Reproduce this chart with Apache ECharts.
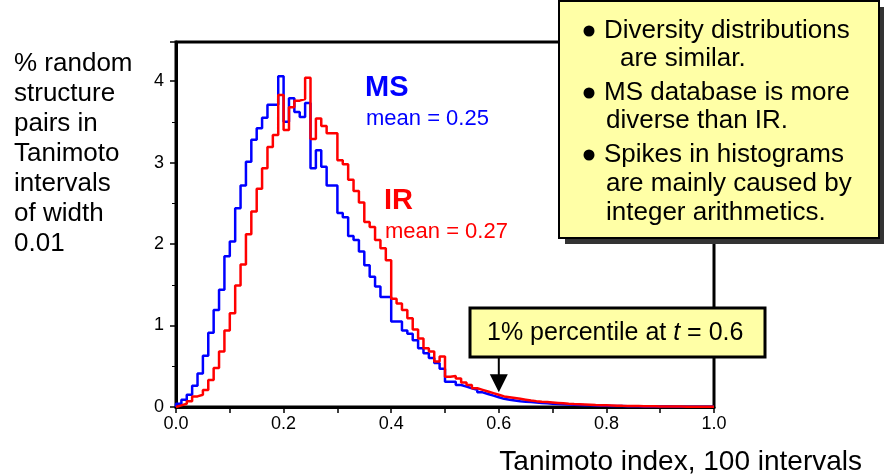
<!DOCTYPE html>
<html>
<head>
<meta charset="utf-8">
<script src="https://cdn.jsdelivr.net/npm/echarts@6/dist/echarts.min.js"></script>
<style>
  html, body { margin: 0; padding: 0; background: #fff; }
  #chart { width: 884px; height: 476px; }
</style>
</head>
<body>
<div id="chart"></div>
<script>
// % of pairs per Tanimoto bin of width 0.01 (bins 0..99)
const msValues = [
  0.04, 0.09, 0.15, 0.26, 0.41, 0.63, 0.91, 1.19, 1.44, 1.85,
  2.03, 2.44, 2.72, 3.01, 3.28, 3.42, 3.55, 3.71, 3.71, 4.06,
  3.50, 3.79, 3.62, 3.56, 3.73, 2.93, 3.15, 2.95, 2.72, 2.72,
  2.38, 2.33, 2.10, 2.05, 1.91, 1.74, 1.60, 1.48, 1.35, 1.35,
  1.05, 1.05, 0.94, 0.90, 0.82, 0.72, 0.66, 0.60, 0.54, 0.47,
  0.31, 0.31, 0.27, 0.25, 0.23, 0.21, 0.18, 0.16, 0.14, 0.12,
  0.10, 0.09, 0.08, 0.07, 0.065, 0.06, 0.055, 0.05, 0.045, 0.04,
  0.036, 0.033, 0.03, 0.027, 0.025, 0.022, 0.02, 0.018, 0.016, 0.015,
  0.013, 0.012, 0.011, 0.01, 0.009, 0.008, 0.007, 0.007, 0.006, 0.006,
  0.005, 0.005, 0.004, 0.004, 0.004, 0.003, 0.003, 0.003, 0.002, 0.002
]
const irValues = [
  0.02, 0.04, 0.07, 0.13, 0.15, 0.21, 0.33, 0.48, 0.68, 0.94,
  1.15, 1.49, 1.75, 2.12, 2.40, 2.68, 2.93, 3.19, 3.34, 3.83,
  3.40, 3.68, 3.76, 3.78, 4.04, 3.29, 3.54, 3.45, 3.36, 3.36,
  3.03, 2.98, 2.79, 2.65, 2.51, 2.27, 2.21, 2.05, 1.95, 1.80,
  1.33, 1.27, 1.19, 1.09, 0.95, 0.84, 0.72, 0.68, 0.56, 0.62,
  0.37, 0.38, 0.35, 0.30, 0.27, 0.23, 0.21, 0.19, 0.17, 0.15,
  0.13, 0.12, 0.11, 0.10, 0.09, 0.08, 0.072, 0.065, 0.06, 0.055,
  0.05, 0.045, 0.04, 0.036, 0.033, 0.03, 0.027, 0.024, 0.022, 0.02,
  0.018, 0.016, 0.014, 0.013, 0.012, 0.011, 0.01, 0.009, 0.008, 0.007,
  0.006, 0.006, 0.005, 0.005, 0.004, 0.004, 0.003, 0.003, 0.003, 0.002
]
const binWidth = 0.01
const xTicks = [0, 0.2, 0.4, 0.6, 0.8, 1.0]
const yTicks = [0, 1, 2, 3, 4]
const percentileT = 0.6

const FONT = '"Liberation Sans", Arial, sans-serif'

// step outline: (left edge, value) pairs, closed at the right edge
function toSteps (values) {
  const pts = [[0, 0]]
  values.forEach((v, i) => pts.push([+(i * binWidth).toFixed(2), v]))
  pts.push([1, values[values.length - 1]])
  return pts
}

function txt (id, x, y, text, font, color, align) {
  return {
    type: 'text',
    id: id,
    x: x,
    y: y,
    style: {
      text: text,
      font: font,
      fill: color || '#000',
      textAlign: align || 'left',
      textVerticalAlign: 'middle'
    }
  }
}

// [bullet?, text, centre y, left x]
const boxLines = [
  [true, 'Diversity distributions', 31, 604],
  [false, 'are similar.', 59, 620],
  [true, 'MS database is more', 93, 604],
  [false, 'diverse than IR.', 121, 606],
  [true, 'Spikes in histograms', 155, 604],
  [false, 'are mainly caused by', 184, 606],
  [false, 'integer arithmetics.', 213, 606]
]

const yTitle = ['% random', 'structure', 'pairs in', 'Tanimoto', 'intervals', 'of width', '0.01']

const myChart = echarts.init(document.getElementById('chart'))

const graphics = []
yTitle.forEach((s, i) => {
  graphics.push(txt('yt' + i, 14, 64 + i * 30, s, '26px ' + FONT))
})
graphics.push(txt('xt', 862, 462, 'Tanimoto index, 100 intervals', '28px ' + FONT, '#000', 'right'))
graphics.push(txt('ms', 365, 88, 'MS', 'bold 29px ' + FONT, '#0000ff'))
graphics.push(txt('msm', 366, 119, 'mean = 0.25', '22px ' + FONT, '#0000ff'))
graphics.push(txt('ir', 384, 201, 'IR', 'bold 29px ' + FONT, '#ff0000'))
graphics.push(txt('irm', 385, 232, 'mean = 0.27', '22px ' + FONT, '#ff0000'))
// summary box with shadow
graphics.push({
  type: 'rect', id: 'boxShadow',
  shape: { x: 565, y: 7, width: 319, height: 237 },
  style: { fill: '#333' },
  z: 10
})
graphics.push({
  type: 'rect', id: 'box',
  shape: { x: 559, y: 1, width: 320, height: 237 },
  style: { fill: '#ffffa6', stroke: '#000', lineWidth: 2 },
  z: 11
})
boxLines.forEach((l, i) => {
  if (l[0]) {
    graphics.push({
      type: 'circle', id: 'bb' + i,
      shape: { cx: 589, cy: l[2], r: 5.5 },
      style: { fill: '#000' },
      z: 12
    })
  }
  const t = txt('bl' + i, l[3], l[2], l[1], '26px ' + FONT)
  t.z = 12
  graphics.push(t)
})
// percentile callout
graphics.push({
  type: 'rect', id: 'callout',
  shape: { x: 470, y: 308, width: 295, height: 49 },
  style: { fill: '#ffffa6', stroke: '#000', lineWidth: 3 },
  z: 10
})
graphics.push({
  type: 'text', id: 'calloutText',
  x: 487,
  y: 333,
  z: 11,
  style: {
    rich: {
      n: { font: '25px ' + FONT, fill: '#000' },
      i: { font: 'italic 25px ' + FONT, fill: '#000' }
    },
    text: '{n|1% percentile at }{i|t}{n| = 0.6}',
    textVerticalAlign: 'middle'
  }
})

myChart.setOption({
  animation: false,
  grid: {
    left: 176,
    right: 170,
    top: 42,
    bottom: 69,
    show: true,
    borderColor: '#000',
    borderWidth: 3
  },
  xAxis: {
    type: 'value',
    min: 0,
    max: 1,
    interval: 0.1,
    splitLine: { show: false },
    axisLine: { lineStyle: { color: '#000', width: 3 } },
    axisTick: { length: 6, lineStyle: { color: '#000', width: 1.5 } },
    axisLabel: {
      color: '#000',
      fontSize: 18,
      fontFamily: FONT,
      margin: 8,
      formatter: v => xTicks.some(t => Math.abs(t - v) < 1e-6) ? v.toFixed(1) : ''
    }
  },
  yAxis: {
    type: 'value',
    min: 0,
    max: 4.48,
    interval: 1,
    splitLine: { show: false },
    axisLine: { lineStyle: { color: '#000', width: 3 } },
    axisTick: { length: 6, lineStyle: { color: '#000', width: 1.5 } },
    minorTick: { show: true, splitNumber: 2, length: 4, lineStyle: { color: '#000', width: 1 } },
    axisLabel: {
      color: '#000',
      fontSize: 18,
      fontFamily: FONT,
      margin: 12,
      formatter: v => yTicks.includes(v) ? String(v) : ''
    }
  },
  series: [
    {
      name: 'MS',
      type: 'line',
      step: 'end',
      symbol: 'none',
      data: toSteps(msValues),
      lineStyle: { color: '#0000ff', width: 2.5 },
      z: 3
    },
    {
      name: 'IR',
      type: 'line',
      step: 'end',
      symbol: 'none',
      data: toSteps(irValues),
      lineStyle: { color: '#ff0000', width: 2.5 },
      z: 4
    }
  ],
  graphic: graphics
})

// arrow from callout down to t = 0.6
const tip = myChart.convertToPixel({ gridIndex: 0 }, [percentileT, 0.18])
myChart.setOption({
  graphic: [
    {
      type: 'line',
      id: 'arrowShaft',
      shape: { x1: tip[0], y1: 357, x2: tip[0], y2: tip[1] - 14 },
      style: { stroke: '#000', lineWidth: 2 },
      z: 12
    },
    {
      type: 'polygon',
      id: 'arrowHead',
      shape: { points: [[tip[0] - 9, tip[1] - 18], [tip[0] + 9, tip[1] - 18], [tip[0], tip[1]]] },
      style: { fill: '#000' },
      z: 12
    }
  ]
})
</script>
</body>
</html>
